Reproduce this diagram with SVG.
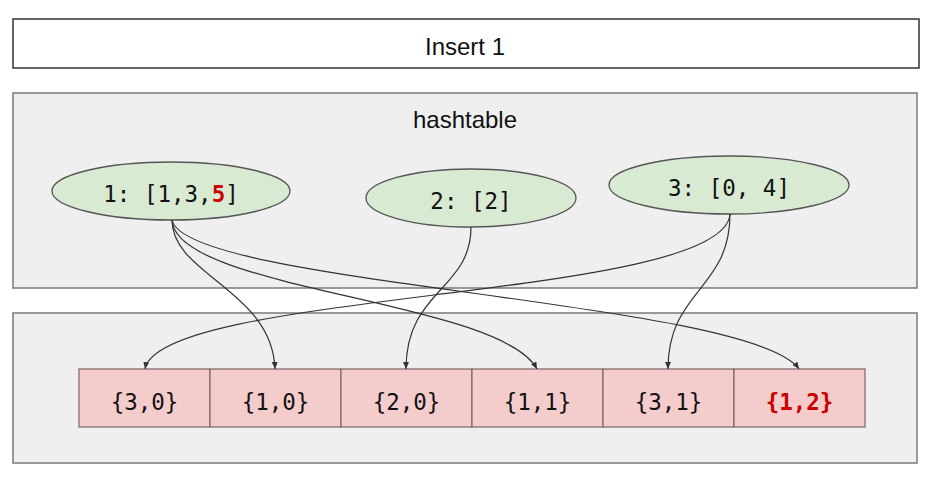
<svg xmlns="http://www.w3.org/2000/svg" width="925" height="480" viewBox="0 0 925 480">
<defs>
<style>
.panel{fill:#efeff0;stroke:#7a7a7a;stroke-width:1.5}
.title{font-family:"Liberation Sans",Arial,sans-serif;font-size:24px;fill:#111;text-anchor:middle}
.mono{font-family:"DejaVu Sans Mono","Liberation Mono",monospace;font-size:22.5px;fill:#111;text-anchor:middle}
.ell{fill:#d9ead3;stroke:#555;stroke-width:1.3}
.cell{fill:#f4cccc;stroke:#7f6565;stroke-width:1.2}
.red{fill:#cc0000}
.edge{fill:none;stroke:#333;stroke-width:1.2;marker-end:url(#arr)}
</style>
<marker id="arr" markerUnits="userSpaceOnUse" markerWidth="8" markerHeight="8" refX="7" refY="3" orient="auto">
<path d="M0,0 L7,3 L0,6 Z" fill="#333"/>
</marker>
</defs>
<rect width="925" height="480" fill="#ffffff"/>
<g id="insert">
<rect x="13" y="19" width="906" height="49" fill="#ffffff" stroke="#333" stroke-width="1.5"/>
<text class="title" x="465" y="55">Insert 1</text>
</g>
<g id="hashtable">
<rect class="panel" x="13" y="93" width="904" height="195"/>
<text class="title" x="465" y="128">hashtable</text>
</g>
<g id="array">
<rect class="panel" x="13" y="313" width="904" height="150"/>
</g>
<g id="key1">
<ellipse class="ell" cx="171" cy="191" rx="119" ry="29"/>
<text class="mono" x="171" y="202">1: [1,3,<tspan class="red" font-weight="bold">5</tspan>]</text>
</g>
<g id="key2">
<ellipse class="ell" cx="471" cy="198" rx="105" ry="29"/>
<text class="mono" x="471" y="209">2: [2]</text>
</g>
<g id="key3">
<ellipse class="ell" cx="729" cy="185" rx="120" ry="29"/>
<text class="mono" x="729" y="196">3: [0, 4]</text>
</g>
<g id="cell0"><rect class="cell" x="79" y="369" width="131" height="58"/><text class="mono" x="144.5" y="410">{3,0}</text></g>
<g id="cell1"><rect class="cell" x="210" y="369" width="131" height="58"/><text class="mono" x="275.5" y="410">{1,0}</text></g>
<g id="cell2"><rect class="cell" x="341" y="369" width="131" height="58"/><text class="mono" x="406.5" y="410">{2,0}</text></g>
<g id="cell3"><rect class="cell" x="472" y="369" width="131" height="58"/><text class="mono" x="537.5" y="410">{1,1}</text></g>
<g id="cell4"><rect class="cell" x="603" y="369" width="131" height="58"/><text class="mono" x="668.5" y="410">{3,1}</text></g>
<g id="cell5"><rect class="cell" x="734" y="369" width="131" height="58"/><text class="mono red" x="799.5" y="410" font-weight="bold">{1,2}</text></g>
<g id="connectors">
<path class="edge" d="M172,220 C172,275 272,290 275,369"/>
<path class="edge" d="M172,220 C175,290 500,300 537,369"/>
<path class="edge" d="M172,220 C185,285 750,300 799,369"/>
<path class="edge" d="M471,227 C471,290 406,290 406,369"/>
<path class="edge" d="M730,214 C725,300 160,290 145,369"/>
<path class="edge" d="M730,214 C730,290 668,290 668,369"/>
</g>
</svg>
